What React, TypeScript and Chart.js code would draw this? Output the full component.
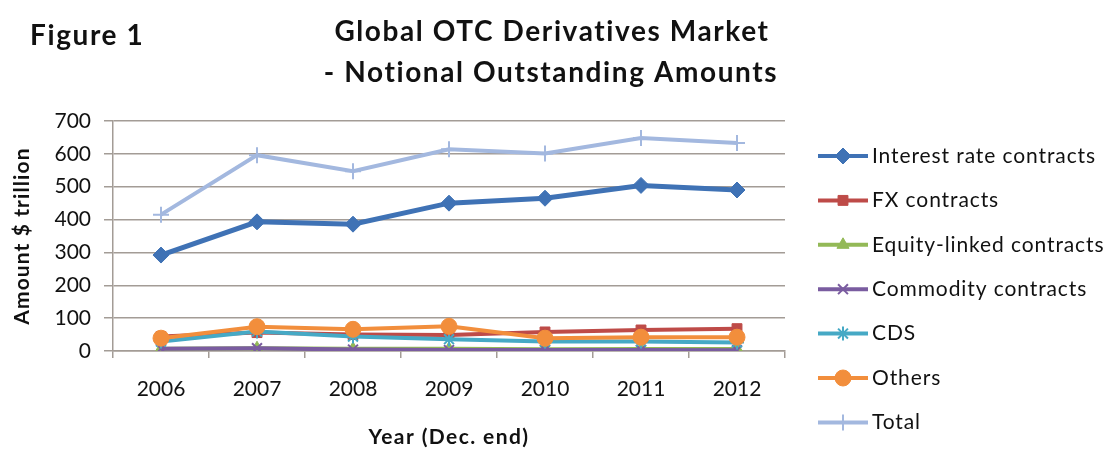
import React, { useEffect, useRef } from "react";
import { Chart, registerables } from "chart.js";
import { drawPoint } from "chart.js/helpers";

Chart.register(...registerables);

const years = ["2006", "2007", "2008", "2009", "2010", "2011", "2012"];
const interestRate = [292, 393, 386, 450, 465, 504, 490];
const fxContracts = [44, 56, 50, 49, 58, 64, 68];
const equityLinked = [7, 8.5, 6.5, 6.6, 5.6, 6.0, 6.3];
const commodity = [7, 8.5, 4.4, 2.9, 2.9, 3.1, 2.6];
const cds = [29, 59, 44, 36, 29, 29, 26];
const others = [39, 74, 66, 75, 39, 42, 42];
const total = [415, 596, 547, 614, 601, 648, 633];

const seriesNames = [
  "Interest rate contracts",
  "FX contracts",
  "Equity-linked contracts",
  "Commodity contracts",
  "CDS",
  "Others",
  "Total",
];
const seriesValues = [interestRate, fxContracts, equityLinked, commodity, cds, others, total];
const seriesColors = ["#3f72b5", "#be4b48", "#93b957", "#7a5ca0", "#46a9c5", "#f28e3c", "#a3b8df"];
const seriesMarkers = ["rectRot", "rect", "triangle", "crossRot", "star", "circle", "cross"];
const seriesLineWidths = [5, 4, 4, 4, 4, 4, 4];
const seriesRadius = [8, 7, 7, 7, 7, 8, 8];

const chartTitle = ["Global OTC Derivatives Market", "- Notional Outstanding Amounts"];
const figureLabel = "Figure 1";
const yTitle = "Amount $ trillion";
const xTitle = "Year (Dec. end)";

const FONT = "Lato, 'Open Sans', sans-serif";

const textPlugin = {
  id: "customText",
  afterDraw(chart: any) {
    const ctx = chart.ctx;
    const area = chart.chartArea;
    ctx.save();
    ctx.fillStyle = "#111";
    ctx.textBaseline = "middle";

    // titles
    ctx.font = `bold 28px ${FONT}`;
    ctx.letterSpacing = "1.6px";
    ctx.textAlign = "left";
    ctx.fillText(figureLabel, 30, 36);
    ctx.textAlign = "center";
    ctx.fillText(chartTitle[0], 552, 32);
    ctx.fillText(chartTitle[1], 551, 73);

    // axis titles
    ctx.font = `bold 21px ${FONT}`;
    ctx.letterSpacing = "1.4px";
    ctx.textAlign = "center";
    ctx.fillText(xTitle, (area.left + area.right) / 2, 437);

    ctx.save();
    ctx.font = `bold 21px ${FONT}`;
    ctx.letterSpacing = "1.1px";
    ctx.translate(22, (area.top + area.bottom) / 2);
    ctx.rotate(-Math.PI / 2);
    ctx.fillText(yTitle, 0, 0);
    ctx.restore();

    // legend
    const lx0 = 818;
    const lx1 = 868;
    const y0 = 156;
    const dy = 44.4;
    ctx.font = `21px ${FONT}`;
    ctx.letterSpacing = "0.9px";
    ctx.textAlign = "left";
    chart.data.datasets.forEach((ds: any, i: number) => {
      const y = y0 + i * dy;
      ctx.strokeStyle = ds.borderColor;
      ctx.lineWidth = 4;
      ctx.beginPath();
      ctx.moveTo(lx0, y);
      ctx.lineTo(lx1, y);
      ctx.stroke();
      ctx.fillStyle = ds.pointBackgroundColor;
      ctx.strokeStyle = ds.pointBorderColor;
      ctx.lineWidth = ds.pointBorderWidth;
      drawPoint(
        ctx,
        { pointStyle: ds.pointStyle, radius: ds.pointRadius, rotation: 0, borderWidth: ds.pointBorderWidth },
        (lx0 + lx1) / 2,
        y
      );
      ctx.fillStyle = "#111";
      ctx.fillText(ds.label, 872, y);
    });
    ctx.letterSpacing = "0px";
    ctx.restore();
  },
};

export default function App() {
  const ref = useRef<HTMLCanvasElement>(null);
  useEffect(() => {
    if (!ref.current) return;
    const datasets = seriesNames.map((name, i) => {
      const isCross = seriesMarkers[i] === "cross" || seriesMarkers[i] === "crossRot" || seriesMarkers[i] === "star";
      return {
        label: name,
        data: seriesValues[i],
        borderColor: seriesColors[i],
        backgroundColor: seriesColors[i],
        pointBackgroundColor: seriesColors[i],
        pointBorderColor: seriesColors[i],
        pointStyle: seriesMarkers[i],
        pointRadius: seriesRadius[i],
        pointBorderWidth: isCross ? 2 : 1,
        borderWidth: seriesLineWidths[i],
        tension: 0,
        order: 7 - i,
      };
    });
    const chart = new Chart(ref.current, {
      type: "line",
      data: { labels: years, datasets },
      options: {
        responsive: false,
        animation: false,
        layout: { padding: { left: 0, right: 320, top: 121, bottom: 0 } },
        plugins: { legend: { display: false }, title: { display: false }, tooltip: { enabled: false } },
        scales: {
          x: {
            offset: true,
            grid: {
              offset: true,
              drawOnChartArea: false,
              drawTicks: true,
              tickLength: 7,
              color: "#a39c96",
              lineWidth: 1.5,
            },
            border: { color: "#a39c96", width: 1.5 },
            ticks: { color: "#111", font: { family: FONT, size: 21 }, padding: 19 },
            afterFit: (scale: any) => {
              scale.height = 99;
            },
          },
          y: {
            min: 0,
            max: 700,
            ticks: { stepSize: 100, color: "#111", font: { family: FONT, size: 21 }, padding: 13 },
            grid: { color: "#a39c96", lineWidth: 1.5, drawTicks: true, tickLength: 9 },
            border: { color: "#a39c96", width: 1.5 },
            afterFit: (scale: any) => {
              scale.width = 113;
            },
          },
        },
      },
      plugins: [textPlugin],
    });
    return () => chart.destroy();
  }, []);
  return (
    <div style={{ position: "absolute", left: 0, top: 0, width: 1105, height: 450, background: "#fff" }}>
      <canvas ref={ref} width={1105} height={450} style={{ display: "block" }} />
    </div>
  );
}
